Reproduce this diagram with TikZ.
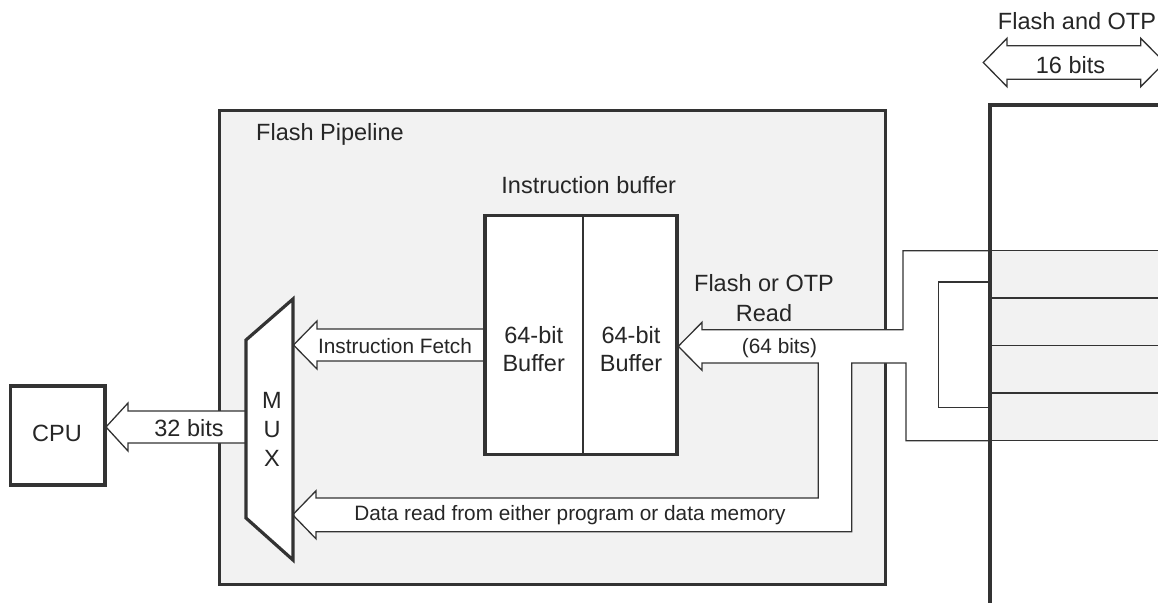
\documentclass[tikz,border=0pt]{standalone}
\usepackage{fontspec}
\setmainfont{Liberation Sans}
\definecolor{ln}{HTML}{333333}
\definecolor{tx}{HTML}{262626}
\definecolor{pfill}{HTML}{F2F2F2}
\begin{document}
\begin{tikzpicture}[x=1pt,y=-1pt,
  thickline/.style={draw=ln, line width=3.2pt},
  thinline/.style={draw=ln, line width=1.3pt},
  blockarrow/.style={thinline, fill=white, line join=miter},
  big/.style={font=\fontsize{23.5}{28.4}\selectfont, text=tx, inner sep=0pt},
  small/.style={font=\fontsize{20.8}{25}\selectfont, text=tx, inner sep=0pt},
  box/.style={thickline, fill=white, inner sep=0pt}]
\useasboundingbox (0,0) rectangle (1158,602);

% Flash pipeline container
\node[thickline, fill=pfill, inner sep=0pt, minimum width=666.7pt, minimum height=473.7pt] (pipe) at (552.5,347.3) {};
\node[big, anchor=base west] (pipelabel) at (256,140) {Flash Pipeline};

% Flash / OTP memory rows
\fill[pfill] (990,250.7) rectangle (1170,440.7);

% combined read arrow (memory -> buffer and -> MUX)
\filldraw[blockarrow] (990,250.7) -- (903,250.7) -- (903,329.8) -- (702,329.8) -- (702,322.3)
  -- (678.3,346.3) -- (702,370.3) -- (702,363) -- (818.3,363) -- (818.3,498)
  -- (316,498) -- (316,490.8) -- (292.7,514.8) -- (316,538.8) -- (316,531.7)
  -- (851.7,531.7) -- (851.7,363) -- (906,363) -- (906,440.7) -- (990,440.7) -- cycle;
\draw[thinline] (990,282) -- (938.3,282) -- (938.3,407.7) -- (990,407.7);

\foreach \y in {250.7,298,345.7,393,440.7} \draw[thinline] (990,\y) -- (1170,\y);
\draw[thickline] (990,610) -- (990,105) -- (1170,105);

% 16 bit double arrow
\filldraw[blockarrow] (983.3,62.5) -- (1007,38.3) -- (1007,45.7) -- (1140.7,45.7) -- (1140.7,38.3)
  -- (1164.7,62.5) -- (1140.7,86.7) -- (1140.7,79.3) -- (1007,79.3) -- (1007,86.7) -- cycle;
\node[big, anchor=base] (memlabel) at (1077,29.3) {Flash and OTP};
\node[big, anchor=base] (widthlabel) at (1070.5,74) {16 bits};

% instruction fetch arrow
\filldraw[blockarrow] (485,329) -- (317,329) -- (317,321) -- (293.5,345) -- (317,369) -- (317,361) -- (485,361) -- cycle;

% 32 bits arrow
\filldraw[blockarrow] (246,411) -- (128,411) -- (128,403) -- (106,427) -- (128,451) -- (128,443) -- (246,443) -- cycle;

% instruction buffer
\node[box, minimum width=192pt, minimum height=238.6pt] (buf) at (581,335) {};
\draw[thinline, line width=1.6pt] (582.7,215.7) -- (582.7,454.3);
\node[big, anchor=base] (buflabel) at (588.7,193.3) {Instruction buffer};
\node[big, align=center] (bufA) at (533.7,349) {64-bit\\Buffer};
\node[big, align=center] (bufB) at (631,349) {64-bit\\Buffer};

% MUX
\filldraw[thickline, fill=white] (293,299) -- (293,560) -- (246,518) -- (246,340) -- cycle;
\node[big, align=center, font=\fontsize{23.5}{29}\selectfont] (mux) at (272,429) {M\\U\\X};

% CPU
\node[box, minimum width=94.5pt, minimum height=99pt] (cpu) at (57.75,435.5) {};
\node[big, anchor=base] (cpulabel) at (57,441.7) {CPU};

% arrow labels
\node[small, anchor=base] (fetchlabel) at (395,353.3) {Instruction Fetch};
\node[big, anchor=base] (buslabel) at (189,436.7) {32 bits};
\node[big, align=center, font=\fontsize{23.5}{29.5}\selectfont] (readlabel) at (764,298.3) {Flash or OTP\\Read};
\node[small, anchor=base] (readwidth) at (779.5,353) {(64 bits)};
\node[small, anchor=base] (datalabel) at (570,520.3) {Data read from either program or data memory};
\end{tikzpicture}
\end{document}
